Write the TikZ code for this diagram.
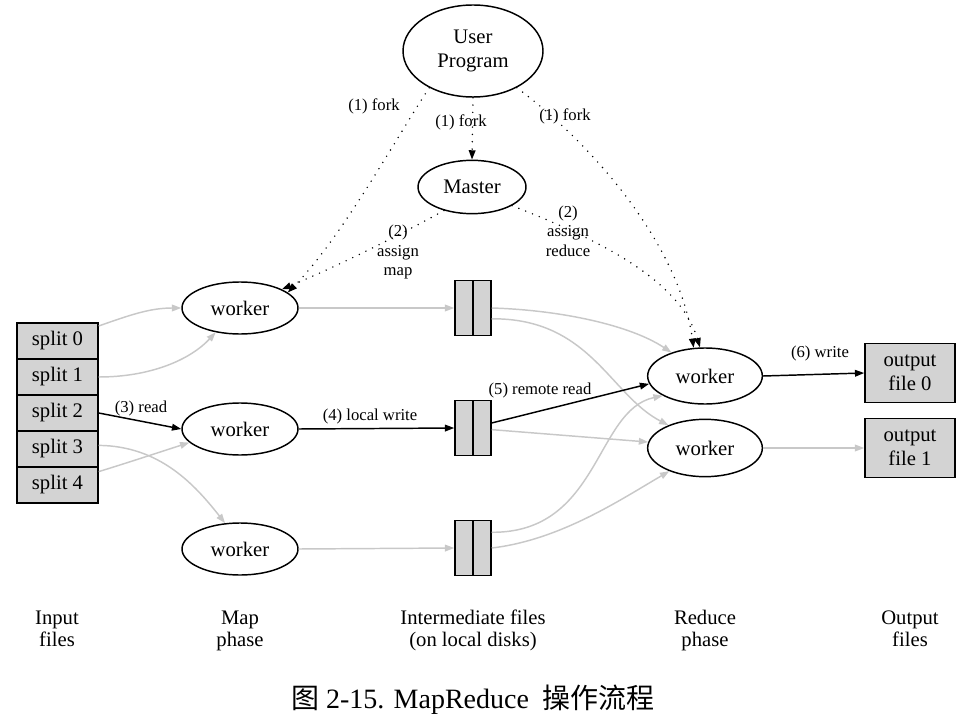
\documentclass[tikz,border=0pt]{standalone}
\usepackage{fontspec}
\setmainfont{Liberation Serif}
\newfontfamily\cjk{Noto Sans CJK SC}
\usepackage{tikz}
\usetikzlibrary{arrows.meta,shapes.geometric}
\usepackage{xcolor}
\definecolor{boxfill}{HTML}{D3D3D3}
\definecolor{faintgray}{HTML}{C8C8C8}
\newcommand{\nodesize}{\fontsize{15.5}{18}\selectfont}
\newcommand{\edgesize}{\fontsize{12.5}{14.6}\selectfont}
\newcommand{\phasesize}{\fontsize{15.5}{16.5}\selectfont}

\begin{document}
\begin{tikzpicture}[x=0.75pt,y=-0.75pt,
  proc/.style={ellipse,draw,line width=1.1pt,inner sep=0pt,align=center,font=\nodesize},
  split/.style={rectangle,draw,fill=boxfill,line width=1.1pt,inner sep=0pt,
    minimum width=60.75pt,minimum height=27pt,font=\nodesize},
  midfile/.style={rectangle,draw,fill=boxfill,line width=1.1pt,inner sep=0pt,
    minimum width=27pt,minimum height=41pt,
    path picture={\draw[line width=1.1pt] (path picture bounding box.north) -- (path picture bounding box.south);}},
  outbox/.style={rectangle,draw,fill=boxfill,line width=1.1pt,inner sep=0pt,
    minimum width=67.5pt,minimum height=44pt,align=center,font=\nodesize},
  dimline/.style={draw=faintgray,line width=1.1pt,-{Triangle[length=7pt,width=5pt]}},
  boldline/.style={draw=black,line width=1.1pt,-{Triangle[length=7pt,width=5pt]}},
  dotline/.style={draw=black,line width=1.2pt,line cap=round,dash pattern=on 0pt off 5.5pt,
    -{Triangle[length=7pt,width=5pt]}},
  lbl/.style={font=\edgesize,align=center,inner sep=0pt},
  phase/.style={font=\phasesize,align=center,inner sep=0pt}]
  \useasboundingbox (0,0) rectangle (973,723);

  % user program and master
  \node[proc,minimum width=105pt,minimum height=69pt] (usr) at (473,51) {User\\Program};
  \node[proc,minimum width=81pt,minimum height=40pt] (master) at (472,187) {Master};

  % input splits
  \foreach \i in {0,...,4}
    \node[split] (split\i) at (57.5,{341+36*\i}) {split \i};

  % map workers
  \foreach \i/\y in {1/308,2/429,3/549}
    \node[proc,minimum width=87pt,minimum height=39pt] (map\i) at (240,\y) {worker};

  % intermediate files
  \foreach \i/\y in {1/308,2/428,3/548}
    \node[midfile] (mid\i) at (473,\y) {};

  % reduce workers and output files
  \node[proc,minimum width=86pt,minimum height=42pt] (red1) at (705,376) {worker};
  \node[proc,minimum width=86pt,minimum height=43pt] (red2) at (705,448) {worker};
  \node[outbox] (out0) at (910,373) {output\\file 0};
  \node[outbox] (out1) at (910,448) {output\\file 1};

  % fork and assign
  \draw[dotline] (usr.-140) .. controls (395,140) and (340,240) .. (map1.18);
  \draw[dotline] (usr.south) -- (master.north);
  \draw[dotline] (usr.-40) .. controls (600,150) and (680,250) .. (red1.112);
  \draw[dotline] (master.-140) .. controls (400,235) and (340,265) .. (map1.24);
  \draw[dotline] (master.-25) .. controls (600,240) and (680,280) .. (red1.100);
  \node[lbl] (fork1) at (374,106) {(1) fork};
  \node[lbl] (fork2) at (461,122) {(1) fork};
  \node[lbl] (fork3) at (565,116) {(1) fork};
  \node[lbl] (asmap) at (398,252) {(2)\\assign\\map};
  \node[lbl] (asred) at (568,231) {(2)\\assign\\reduce};

  % read splits
  \draw[dimline] (split0.20) .. controls (130,315) and (150,308) .. (map1.west);
  \draw[dimline] (split1.east) .. controls (150,377) and (190,360) .. (map1.-135);
  \draw[boldline] (split2.east) -- (map2.west);
  \draw[dimline] (split3.5) .. controls (160,446) and (195,485) .. (map3.120);
  \draw[dimline] (split4.18) .. controls (130,462) and (160,452) .. (map2.195);
  \node[lbl] (read) at (141,408) {(3) read};

  % local write
  \draw[dimline] (map1.east) -- (mid1.west);
  \draw[boldline] (map2.east) -- (mid2.west);
  \draw[dimline] (map3.east) -- (mid3.west);
  \node[lbl] (lwrite) at (370,416) {(4) local write};

  % remote read
  \draw[dimline] (mid1.east) .. controls (560,310) and (630,325) .. (red1.145);
  \draw[dimline] (mid1.-30) .. controls (590,318) and (610,395) .. (red2.148);
  \draw[boldline] (mid2.15) -- (red1.188);
  \draw[dimline] (mid2.-5) -- (red2.174);
  \draw[dimline] (mid3.40) .. controls (600,533) and (595,410) .. (red1.205);
  \draw[dimline] (mid3.east) .. controls (560,540) and (620,500) .. (red2.213);
  \node[lbl] (rread) at (540,390) {(5) remote read};

  % write output
  \draw[boldline] (red1.east) -- (out0.west);
  \draw[dimline] (red2.east) -- (out1.west);
  \node[lbl] (write) at (820,353) {(6) write};

  % phases
  \node[phase] (ph1) at (57,631) {\strut Input\\\strut files};
  \node[phase] (ph2) at (240,631) {\strut Map\\\strut phase};
  \node[phase] (ph3) at (473,631) {\strut Intermediate files\\\strut (on local disks)};
  \node[phase] (ph4) at (705,631) {\strut Reduce\\\strut phase};
  \node[phase] (ph5) at (910,631) {\strut Output\\\strut files};

  \node[font=\fontsize{21}{24}\selectfont,inner sep=0pt] (caption) at (473,700)
    {{\cjk 图} 2-15. MapReduce\ \ {\cjk 操作流程}};
\end{tikzpicture}
\end{document}
